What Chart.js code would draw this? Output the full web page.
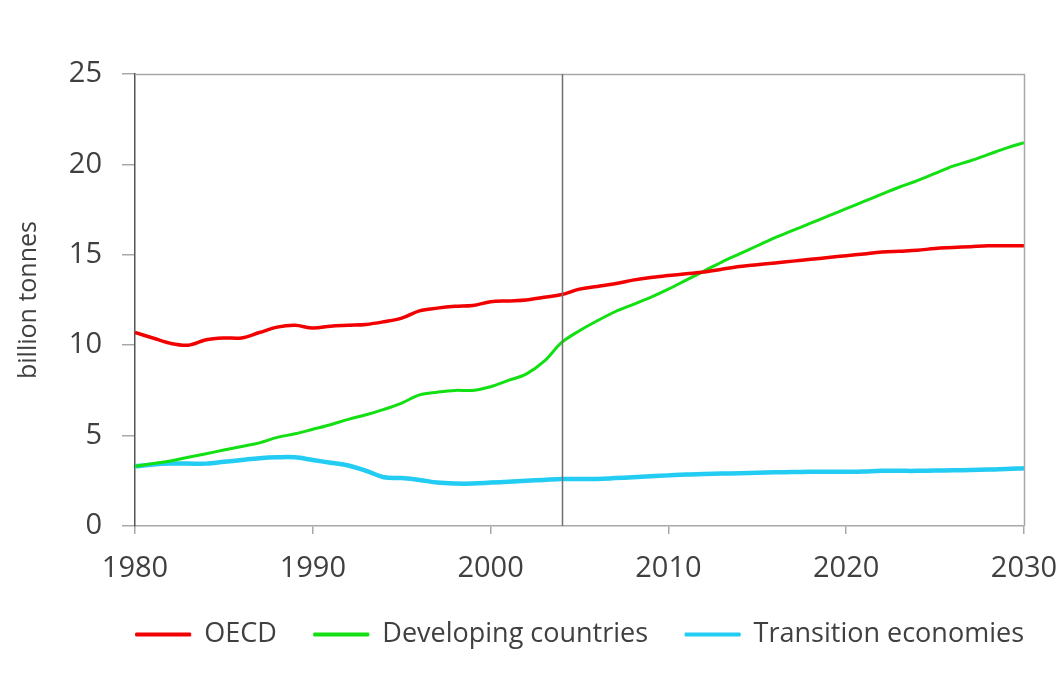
<!DOCTYPE html>
<html>
<head>
<meta charset="utf-8">
<script src="https://cdn.jsdelivr.net/npm/chart.js@4/dist/chart.umd.min.js"></script>
<style>
  html, body { margin: 0; padding: 0; background: #fff; }
  #wrap { width: 1060px; height: 684px; }
</style>
</head>
<body>
<div id="wrap"><canvas id="co2Chart" width="1060" height="684"></canvas></div>
<script>
// years 1980-2030
const years = [];
for (let y = 1980; y <= 2030; y++) years.push(y);

// billion tonnes
const oecd = [
  10.7, 10.4, 10.1, 10.0, 10.3, 10.4, 10.4, 10.7, 11.0, 11.1,
  10.95, 11.05, 11.1, 11.15, 11.3, 11.5, 11.9, 12.05, 12.15, 12.2,
  12.4, 12.45, 12.5, 12.65, 12.8, 13.1, 13.25, 13.4, 13.6, 13.75,
  13.85, 13.95, 14.05, 14.2, 14.35, 14.45, 14.55, 14.65, 14.75, 14.85,
  14.95, 15.05, 15.15, 15.2, 15.25, 15.35, 15.4, 15.45, 15.5, 15.5,
  15.5
];
const developing = [
  3.3, 3.45, 3.6, 3.8, 4.0, 4.2, 4.4, 4.6, 4.9, 5.1,
  5.35, 5.6, 5.9, 6.15, 6.45, 6.8, 7.25, 7.4, 7.5, 7.5,
  7.7, 8.05, 8.4, 9.1, 10.15, 10.8, 11.35, 11.85, 12.25, 12.65,
  13.1, 13.6, 14.1, 14.6, 15.05, 15.5, 15.95, 16.35, 16.75, 17.15,
  17.55, 17.95, 18.35, 18.75, 19.1, 19.5, 19.9, 20.2, 20.55, 20.9,
  21.2
];
const transition = [
  3.3, 3.4, 3.45, 3.45, 3.45, 3.55, 3.65, 3.75, 3.8, 3.8,
  3.65, 3.5, 3.35, 3.05, 2.7, 2.65, 2.55, 2.4, 2.35, 2.35,
  2.4, 2.45, 2.5, 2.55, 2.6, 2.6, 2.6, 2.65, 2.7, 2.75,
  2.8, 2.85, 2.88, 2.9, 2.92, 2.95, 2.97, 2.98, 3.0, 3.0,
  3.0, 3.02, 3.05, 3.05, 3.05, 3.07, 3.08, 3.1, 3.12, 3.15,
  3.2
];
const seriesNames = ['OECD', 'Developing countries', 'Transition economies'];
const projectionStart = 2004;
const yTicks = [0, 5, 10, 15, 20, 25];
const xTicks = [1980, 1990, 2000, 2010, 2020, 2030];

const textColor = '#404040';
const axisGray = '#a8a8a8';
const fontFamily = '"Open Sans", "DejaVu Sans", sans-serif';
const legendGap = 37;

function toPoints(arr) {
  return arr.map((v, i) => ({ x: years[i], y: v }));
}

// frame round the plot + the 2004 divider
const framePlugin = {
  id: 'frame',
  afterLayout(chart) {
    // legend ends flush with the plot's right edge (drop trailing gap)
    chart.legend.left += legendGap;
    chart.legend.right += legendGap;
  },
  afterDatasetsDraw(chart) {
    const { ctx, chartArea: a, scales } = chart;
    ctx.save();
    ctx.strokeStyle = axisGray;
    ctx.lineWidth = 1.5;
    ctx.beginPath();
    ctx.moveTo(a.left, a.top + 0.5);
    ctx.lineTo(a.right + 0.5, a.top + 0.5);
    ctx.lineTo(a.right + 0.5, a.bottom);
    ctx.stroke();
    const px = Math.round(scales.x.getPixelForValue(projectionStart)) + 0.5;
    ctx.strokeStyle = '#707070';
    ctx.lineWidth = 1.5;
    ctx.beginPath();
    ctx.moveTo(px, a.top);
    ctx.lineTo(px, a.bottom);
    ctx.stroke();
    ctx.restore();
  }
};

const ctx = document.getElementById('co2Chart').getContext('2d');
new Chart(ctx, {
  type: 'line',
  data: {
    datasets: [
      {
        label: seriesNames[0],
        data: toPoints(oecd),
        borderColor: '#f20000',
        backgroundColor: '#f20000',
        borderWidth: 3.5,
        pointRadius: 0,
        tension: 0.35,
      },
      {
        label: seriesNames[1],
        data: toPoints(developing),
        borderColor: '#12e012',
        backgroundColor: '#12e012',
        borderWidth: 3,
        pointRadius: 0,
        tension: 0.35,
      },
      {
        label: seriesNames[2],
        data: toPoints(transition),
        borderColor: '#22ccf2',
        backgroundColor: '#22ccf2',
        borderWidth: 4.5,
        pointRadius: 0,
        tension: 0.35,
      },
    ],
  },
  options: {
    responsive: false,
    animation: false,
    layout: { padding: { top: 74, right: 36, left: 14, bottom: 26 } },
    plugins: {
      tooltip: { enabled: false },
      legend: {
        position: 'bottom',
        align: 'end',
        labels: {
          color: textColor,
          font: { family: fontFamily, size: 27 },
          boxWidth: 55,
          boxHeight: 3,
          padding: legendGap,
          generateLabels: (chart) => {
            const items = Chart.defaults.plugins.legend.labels.generateLabels(chart);
            items.forEach((it) => { it.lineWidth = 1; });
            return items;
          },
        },
      },
    },
    scales: {
      x: {
        type: 'linear',
        min: 1980,
        max: 2030,
        afterBuildTicks: (axis) => { axis.ticks = xTicks.map((v) => ({ value: v })); },
        afterFit: (axis) => {
          axis.height = 58;
          axis.paddingLeft = 0;
          axis.paddingRight = 0;
        },
        ticks: {
          color: textColor,
          font: { family: fontFamily, size: 29 },
          padding: 17,
          maxRotation: 0,
          callback: (v) => String(v),
        },
        grid: { drawOnChartArea: false, drawTicks: true, tickLength: 8, color: axisGray, lineWidth: 1.5 },
        border: { display: true, color: axisGray, width: 1.5 },
      },
      y: {
        min: 0,
        max: 25,
        afterBuildTicks: (axis) => { axis.ticks = yTicks.map((v) => ({ value: v })); },
        afterFit: (axis) => { axis.width = 121; },
        ticks: {
          color: textColor,
          font: { family: fontFamily, size: 29 },
          padding: 20,
        },
        title: {
          display: true,
          text: 'billion tonnes',
          color: textColor,
          font: { family: fontFamily, size: 25 },
          padding: { top: 0, bottom: 0 },
        },
        grid: { drawOnChartArea: false, drawTicks: true, tickLength: 13, color: axisGray, lineWidth: 1.5 },
        border: { display: true, color: '#555555', width: 1.5 },
      },
    },
  },
  plugins: [framePlugin],
});
</script>
</body>
</html>
